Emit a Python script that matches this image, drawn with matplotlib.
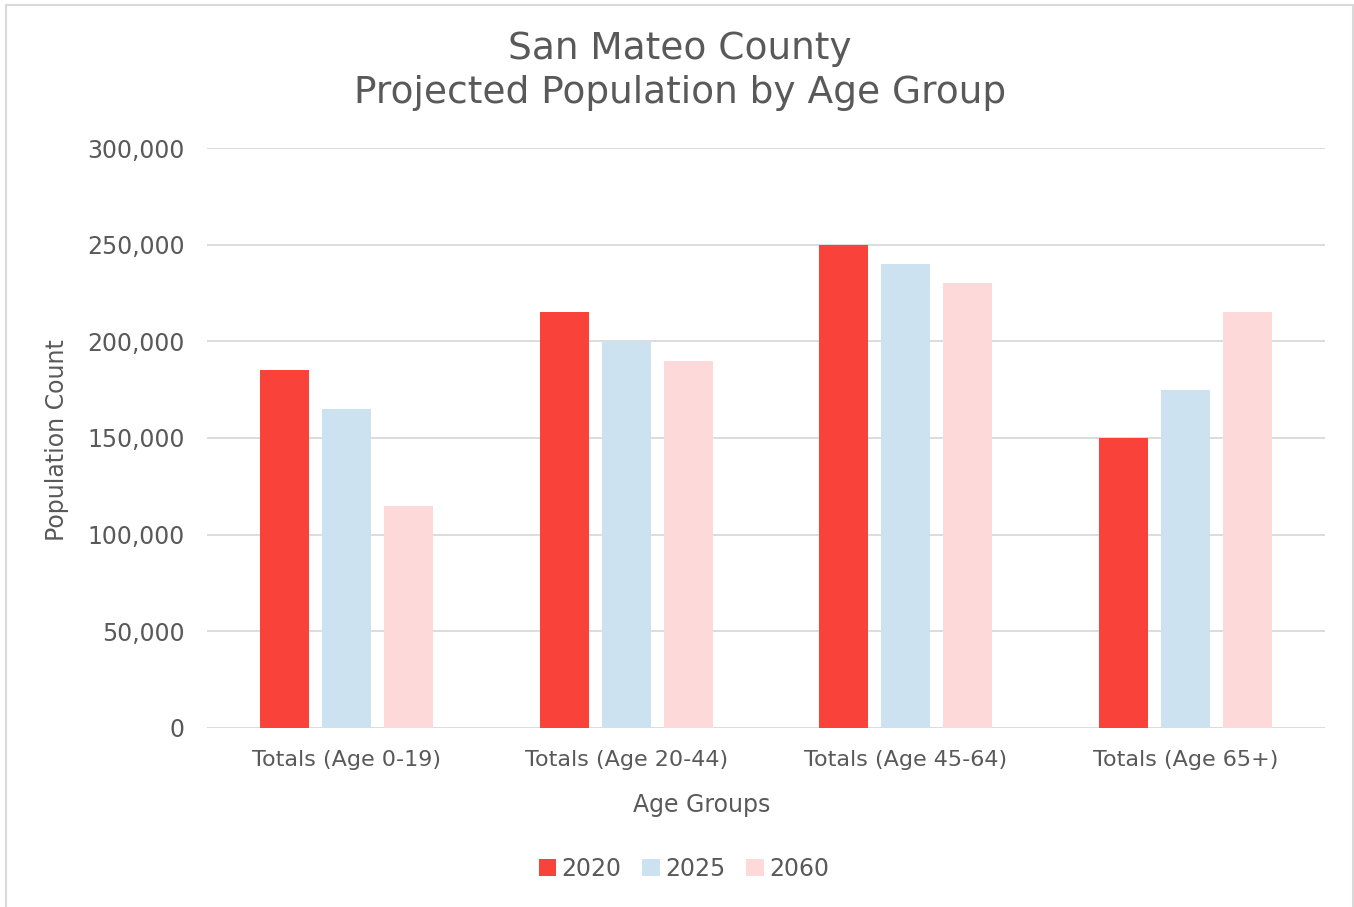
import matplotlib.pyplot as plt
import numpy as np
from matplotlib.patches import Rectangle
from matplotlib.ticker import FuncFormatter

plt.rcParams['font.family'] = ['DejaVu Sans']

# Projected population per age bracket
age_groups = ['Totals (Age 0-19)', 'Totals (Age 20-44)', 'Totals (Age 45-64)', 'Totals (Age 65+)']
years = ['2020', '2025', '2060']
pop_2020 = [185000, 215000, 250000, 150000]
pop_2025 = [165000, 200000, 240000, 175000]
pop_2060 = [115000, 190000, 230000, 215000]

colors = ['#F9433A', '#CCE2F0', '#FDD9D9']
text_color = '#595959'

fig = plt.figure(figsize=(13.54, 9.07), dpi=100)
ax = fig.add_axes([0.1529, 0.1974, 0.8257, 0.6394])

# thin grey frame around the whole chart
fig.patches.append(Rectangle((6 / 1354, -0.01), 1347 / 1354, 1 - 5 / 907 + 0.01,
                             transform=fig.transFigure, fill=False,
                             edgecolor='#D9D9D9', linewidth=1.5))

x = np.arange(len(age_groups))
width = 0.175
step = 0.222
for i, (vals, label) in enumerate(zip([pop_2020, pop_2025, pop_2060], years)):
    ax.bar(x + (i - 1) * step, vals, width, color=colors[i], label=label, zorder=3)

ax.set_xlim(-0.5, len(age_groups) - 0.5)
ax.set_ylim(0, 300000)
ax.set_yticks(np.arange(0, 300001, 50000))
ax.yaxis.set_major_formatter(FuncFormatter(lambda v, p: f'{int(v):,}'))
ax.set_xticks(x)
ax.set_xticklabels(age_groups)

ax.grid(axis='y', color='#D9D9D9', linewidth=1.3, zorder=0)
for s in ['top', 'right', 'left', 'bottom']:
    ax.spines[s].set_visible(False)
ax.tick_params(axis='both', length=0, labelsize=16, colors=text_color)
ax.tick_params(axis='y', labelsize=17, pad=16)
ax.tick_params(axis='x', pad=16)

fig.text(702 / 1354, 1 - 805 / 907, 'Age Groups', ha='center', va='center',
         fontsize=17, color=text_color)
fig.text(57 / 1354, 1 - 440 / 907, 'Population Count', ha='center', va='center',
         rotation=90, fontsize=17, color=text_color)

fig.text(0.502, 1 - 71 / 907, 'San Mateo County\nProjected Population by Age Group',
         ha='center', va='center', fontsize=27, color=text_color, linespacing=1.3)

leg = fig.legend(loc='center', bbox_to_anchor=(0.505, 1 - 869 / 907), ncol=3, frameon=False,
                 fontsize=17, handlelength=0.75, handleheight=0.75, handletextpad=0.2,
                 columnspacing=0.9, labelcolor=text_color)

fig.savefig('out.png', dpi=100, facecolor='white')
